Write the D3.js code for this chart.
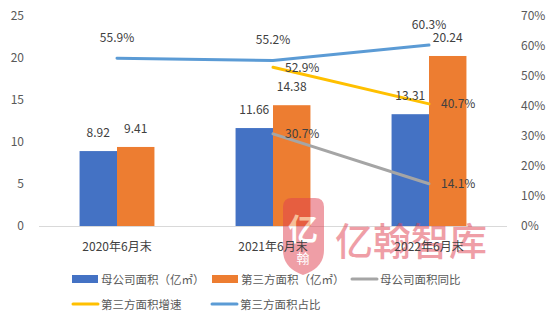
<!DOCTYPE html>
<html>
<head>
<meta charset="utf-8">
<script src="https://cdn.jsdelivr.net/npm/d3@7"></script>
<style>
  html, body { margin: 0; padding: 0; background: #ffffff; }
  svg { display: block; }
  text { font-family: "Noto Sans CJK SC", "Noto Sans", sans-serif; }
</style>
</head>
<body>
<svg id="chart" width="556" height="324"></svg>
<script>
// ---- data ----
const categories = ["2020年6月末", "2021年6月末", "2022年6月末"];
const parentArea = [8.92, 11.66, 13.31];      // 母公司面积（亿㎡）
const thirdArea = [9.41, 14.38, 20.24];       // 第三方面积（亿㎡）
const parentYoY = [null, 30.7, 14.1];         // 母公司面积同比 (%)
const thirdGrowth = [null, 52.9, 40.7];       // 第三方面积增速 (%)
const thirdShare = [55.9, 55.2, 60.3];        // 第三方面积占比 (%)
const leftTicks = [0, 5, 10, 15, 20, 25];
const rightTicks = [0, 10, 20, 30, 40, 50, 60, 70];

const C = {
  blue: "#4472c4", orange: "#ed7d31", gray: "#a5a5a5",
  yellow: "#ffc000", sky: "#5b9bd5", text: "#595959", axis: "#d9d9d9"
};

const svg = d3.select("#chart");
const plot = { left: 39, right: 507, top: 16, bottom: 226 };

const x = d3.scaleBand().domain(categories).range([plot.left, plot.right]).padding(0);
const xSub = d3.scaleBand().domain(["parent", "third"])
  .range([x.bandwidth() * 0.26, x.bandwidth() * 0.74]).padding(0);
const yL = d3.scaleLinear().domain([0, 25]).range([plot.bottom, plot.top]);
const yR = d3.scaleLinear().domain([0, 70]).range([plot.bottom, plot.top]);
const cx = c => x(c) + x.bandwidth() / 2;

// ---- axes ----
const gL = svg.append("g").attr("transform", `translate(${plot.left - 15},0)`)
  .call(d3.axisLeft(yL).tickValues(leftTicks).tickSize(0).tickPadding(0));
const gR = svg.append("g").attr("transform", `translate(${plot.right + 14},0)`)
  .call(d3.axisRight(yR).tickValues(rightTicks).tickSize(0).tickPadding(0)
    .tickFormat(d => d + "%"));
[gL, gR].forEach(g => {
  g.select(".domain").remove();
  g.selectAll("text").attr("fill", C.text).style("font-size", "12px")
    .style("font-family", "\"Noto Sans CJK SC\", sans-serif");
});

// baseline
svg.append("line")
  .attr("x1", plot.left).attr("x2", plot.right)
  .attr("y1", plot.bottom + 0.5).attr("y2", plot.bottom + 0.5)
  .attr("stroke", C.axis).attr("stroke-width", 1);

// ---- bars ----
const barSeries = [
  { key: "parent", values: parentArea, color: C.blue },
  { key: "third", values: thirdArea, color: C.orange }
];
barSeries.forEach(s => {
  svg.append("g").selectAll("rect").data(categories).join("rect")
    .attr("x", (c) => x(c) + xSub(s.key))
    .attr("width", xSub.bandwidth())
    .attr("y", (c, i) => yL(s.values[i]))
    .attr("height", (c, i) => yL(0) - yL(s.values[i]))
    .attr("fill", s.color);
});

// ---- watermark ----
const wm = svg.append("g").attr("opacity", 0.5);
wm.append("path")
  .attr("d", "M283,207 Q283,198 292,198 L315,198 Q324,198 324,207 L324,250 Q324,268 303,275 Q283,268 283,250 Z")
  .attr("fill", "#e04050");
wm.append("text").attr("x", 303).attr("y", 240).attr("text-anchor", "middle")
  .attr("fill", "#ffffff").style("font-size", "30px").style("font-weight", "700").text("亿");
wm.append("text").attr("x", 303).attr("y", 263).attr("text-anchor", "middle")
  .attr("fill", "#ffffff").style("font-size", "13px").text("翰");
wm.append("text").attr("x", 335).attr("y", 255)
  .attr("fill", "#e04050").style("font-size", "38px").style("font-weight", "500")
  .text("亿翰智库");

// ---- lines ----
const lineSeries = [
  { key: "yoy", values: parentYoY, color: C.gray },
  { key: "growth", values: thirdGrowth, color: C.yellow },
  { key: "share", values: thirdShare, color: C.sky }
];
const line = d3.line()
  .defined(d => d.v != null)
  .x(d => cx(d.c)).y(d => yR(d.v));
lineSeries.forEach(s => {
  const pts = categories.map((c, i) => ({ c, v: s.values[i] }));
  svg.append("path").datum(pts)
    .attr("d", line).attr("fill", "none")
    .attr("stroke", s.color).attr("stroke-width", 3)
    .attr("stroke-linecap", "round");
});

// ---- data labels ----
const lbl = svg.append("g").style("font-size", "12px").attr("fill", "#404040");
barSeries.forEach(s => {
  categories.forEach((c, i) => {
    lbl.append("text")
      .attr("x", x(c) + xSub(s.key) + xSub.bandwidth() / 2)
      .attr("y", yL(s.values[i]) - 14)
      .attr("text-anchor", "middle").text(s.values[i].toFixed(2));
  });
});
categories.forEach((c, i) => {
  lbl.append("text").attr("x", cx(c)).attr("y", yR(thirdShare[i]) - 16)
    .attr("text-anchor", "middle").text(thirdShare[i].toFixed(1) + "%");
});
[parentYoY, thirdGrowth].forEach(vals => {
  categories.forEach((c, i) => {
    if (vals[i] == null) return;
    lbl.append("text").attr("x", cx(c) + 12).attr("y", yR(vals[i]) + 4.5)
      .text(vals[i].toFixed(1) + "%");
  });
});

// ---- category labels ----
svg.append("g").selectAll("text").data(categories).join("text")
  .attr("x", c => cx(c)).attr("y", 251)
  .attr("text-anchor", "middle").attr("fill", "#404040")
  .style("font-size", "12px").text(c => c);

// ---- legend ----
const legendItems = [
  { name: "母公司面积（亿㎡）", color: C.blue, type: "bar", x: 72, y: 279 },
  { name: "第三方面积（亿㎡）", color: C.orange, type: "bar", x: 212, y: 279 },
  { name: "母公司面积同比", color: C.gray, type: "line", x: 351, y: 279 },
  { name: "第三方面积增速", color: C.yellow, type: "line", x: 72, y: 304 },
  { name: "第三方面积占比", color: C.sky, type: "line", x: 211, y: 304 }
];
const lg = svg.append("g");
legendItems.forEach(d => {
  if (d.type === "bar") {
    lg.append("rect").attr("x", d.x).attr("y", d.y - 4).attr("width", 26).attr("height", 8)
      .attr("fill", d.color);
  } else {
    lg.append("line").attr("x1", d.x + 1).attr("x2", d.x + 26)
      .attr("y1", d.y).attr("y2", d.y)
      .attr("stroke", d.color).attr("stroke-width", 3).attr("stroke-linecap", "round");
  }
  lg.append("text").attr("x", d.x + 29).attr("y", d.y + 4.5)
    .attr("fill", C.text).style("font-size", "11.5px").text(d.name);
});
</script>
</body>
</html>
